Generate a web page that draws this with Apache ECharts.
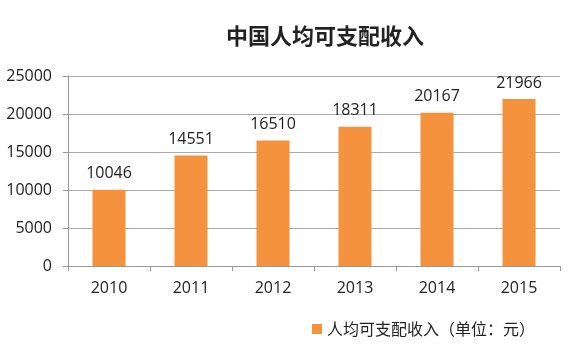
<!DOCTYPE html>
<html><head><meta charset="utf-8">
<script src="https://cdn.jsdelivr.net/npm/echarts@6/dist/echarts.min.js"></script>
<style>html,body{margin:0;padding:0;background:#fff}#c{width:580px;height:359px}</style>
</head><body><div id="c"></div>
<script>
const categories = ['2010','2011','2012','2013','2014','2015'];
const values = [10046,14551,16510,18311,20167,21966];
const seriesName = '人均可支配收入（单位：元）';
const titleText = '中国人均可支配收入';
const font = '"Noto Sans CJK SC", "Open Sans", sans-serif';
const numFont = '"Open Sans", sans-serif';
const chart = echarts.init(document.getElementById('c'), null, {renderer:'canvas'});
chart.setOption({
  animation:false,
  backgroundColor:'#fff',
  title:{text:titleText,left:320,top:20,textAlign:'center',textStyle:{fontFamily:font,fontSize:22,fontWeight:'bold',color:'#222'}},
  grid:{left:68,right:20,top:76,bottom:93,containLabel:false},
  legend:{left:307,top:316,itemWidth:10,itemHeight:10,itemGap:6,icon:'rect',
    textStyle:{fontFamily:font,fontSize:16,color:'#222'}},
  xAxis:{type:'category',data:categories,
    axisLine:{lineStyle:{color:'#999'}},
    axisTick:{show:true,length:5,lineStyle:{color:'#999'}},
    axisLabel:{fontFamily:numFont,fontSize:16,color:'#222',margin:14}},
  yAxis:{type:'value',min:0,max:25000,interval:5000,
    axisLine:{show:true,lineStyle:{color:'#999'}},
    axisTick:{show:true,length:5,lineStyle:{color:'#999'}},
    splitLine:{lineStyle:{color:'#aaa'}},
    axisLabel:{fontFamily:numFont,fontSize:16,color:'#222',margin:16,formatter:v=>String(v)}},
  series:[{name:seriesName,type:'bar',data:values,barWidth:33,
    itemStyle:{color:'#F5923E'},
    label:{show:true,position:'top',distance:8,fontFamily:numFont,fontSize:16,color:'#222'}}]
});
</script></body></html>
